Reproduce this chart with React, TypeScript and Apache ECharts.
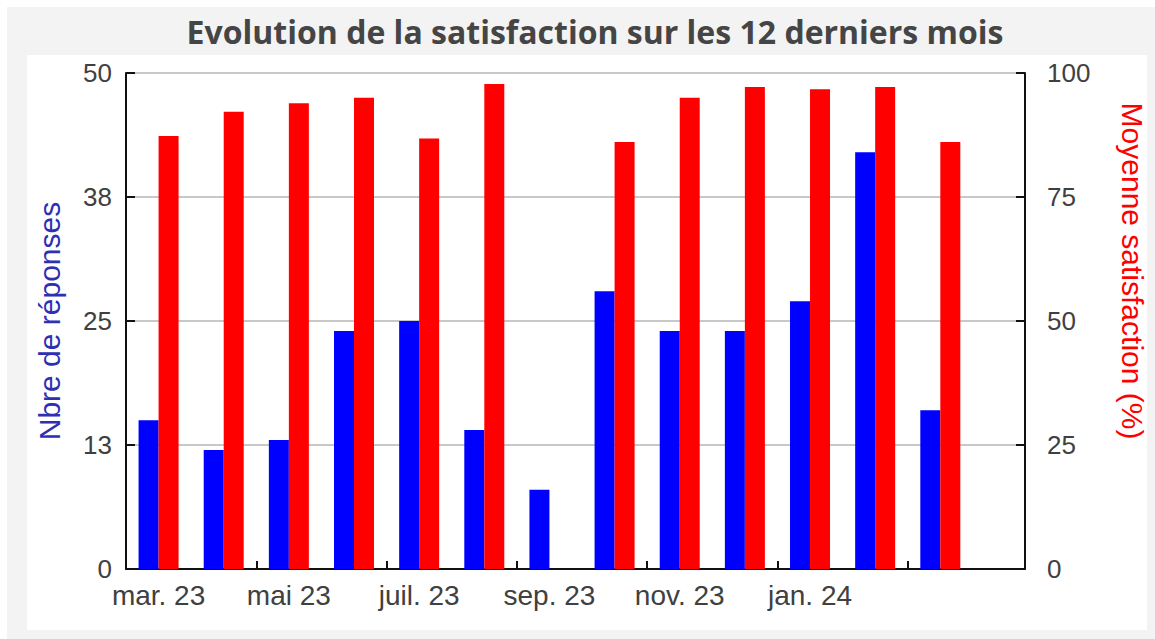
import React, { useEffect, useRef } from "react";
import * as echarts from "echarts";

const titleText = "Evolution de la satisfaction sur les 12 derniers mois";
const months = [
  "mar. 23", "avr. 23", "mai 23", "juin 23", "juil. 23", "août 23", "sep. 23",
  "oct. 23", "nov. 23", "déc. 23", "jan. 24", "fév. 24", "mar. 24",
];
const responses = [15, 12, 13, 24, 25, 14, 8, 28, 24, 24, 27, 42, 16];
const satisfaction: (number | null)[] = [
  87.3, 92.2, 93.9, 95.0, 86.8, 97.8, null, 86.1, 95.0, 97.2, 96.7, 97.2, 86.1,
];
const leftAxisName = "Nbre de réponses";
const rightAxisName = "Moyenne satisfaction (%)";
const labelledMonths = [0, 2, 4, 6, 8, 10];
const tickBoundaries = [2, 4, 6, 8, 10, 12];

export default function App() {
  const ref = useRef<HTMLDivElement>(null);
  useEffect(() => {
    if (!ref.current) return;
    const chart = echarts.init(ref.current, null, { renderer: "svg" });
    const font = "'Liberation Sans', Arial, sans-serif";
    const respData = responses.map((v, i) => [i + 0.5, v]);
    const satData = satisfaction
      .map((v, i) => (v == null ? null : [i + 0.5, v]))
      .filter((d) => d !== null);
    chart.setOption({
      animation: false,
      backgroundColor: "transparent",
      title: {
        text: titleText,
        left: 590,
        top: 10,
        textAlign: "center",
        textStyle: {
          fontFamily: "'Open Sans', sans-serif",
          fontWeight: "bold",
          fontSize: 32,
          color: "#454545",
        },
      },
      grid: { left: 126, right: 130, top: 73, bottom: 70, containLabel: false },
      xAxis: {
        type: "value",
        min: 0,
        max: 13.8,
        axisLine: { show: true, lineStyle: { color: "#111", width: 2 } },
        axisTick: {
          show: true,
          inside: true,
          length: 8,
          lineStyle: { color: "#111", width: 2 },
          customValues: tickBoundaries,
        },
        axisLabel: {
          customValues: labelledMonths.map((i) => i + 0.5),
          formatter: (v: number) => months[Math.floor(v)],
          fontFamily: font,
          fontSize: 28,
          color: "#404040",
          margin: 12,
        },
        splitLine: { show: false },
      },
      yAxis: [
        {
          type: "value",
          min: 0,
          max: 50,
          interval: 12.5,
          position: "left",
          name: leftAxisName,
          nameLocation: "middle",
          nameGap: 62,
          nameTextStyle: { color: "#2f2fb4", fontFamily: font, fontSize: 30 },
          axisLine: { show: true, lineStyle: { color: "#111", width: 2 } },
          axisTick: { show: true, inside: true, length: 9, lineStyle: { color: "#111", width: 2 } },
          axisLabel: {
            formatter: (v: number) => String(Math.round(v)),
            fontFamily: font,
            fontSize: 26,
            color: "#404040",
            margin: 14,
          },
          splitLine: { show: true, lineStyle: { color: "#c8c8c8", width: 2 } },
        },
        {
          type: "value",
          min: 0,
          max: 100,
          interval: 25,
          position: "right",
          name: rightAxisName,
          nameLocation: "middle",
          nameGap: 92,
          nameRotate: -90,
          nameTextStyle: {
            color: "#ff0000",
            fontFamily: font,
            fontSize: 30,
            padding: [0, 100, 0, 0],
          },
          axisLine: { show: true, lineStyle: { color: "#111", width: 2 } },
          axisTick: { show: true, inside: true, length: 9, lineStyle: { color: "#111", width: 2 } },
          axisLabel: {
            fontFamily: font,
            fontSize: 26,
            color: "#404040",
            margin: 22,
          },
          splitLine: { show: false },
        },
      ],
      series: [
        {
          type: "bar",
          name: leftAxisName,
          yAxisIndex: 0,
          data: respData,
          barWidth: 20,
          barGap: "0%",
          itemStyle: { color: "#0000ff" },
        },
        {
          type: "bar",
          name: rightAxisName,
          yAxisIndex: 1,
          data: satData,
          barWidth: 20,
          barGap: "0%",
          itemStyle: { color: "#ff0000" },
        },
      ],
    });
    return () => chart.dispose();
  }, []);
  return (
    <div style={{ position: "fixed", left: 0, top: 0, width: 1155, height: 639, background: "#ffffff" }}>
      <div style={{ position: "absolute", left: 7, top: 7, width: 1148, height: 632, background: "#f3f3f3" }} />
      <div style={{ position: "absolute", left: 27, top: 55, width: 1120, height: 575, background: "#ffffff" }} />
      <div ref={ref} style={{ position: "absolute", left: 0, top: 0, width: 1155, height: 639 }} />
    </div>
  );
}
